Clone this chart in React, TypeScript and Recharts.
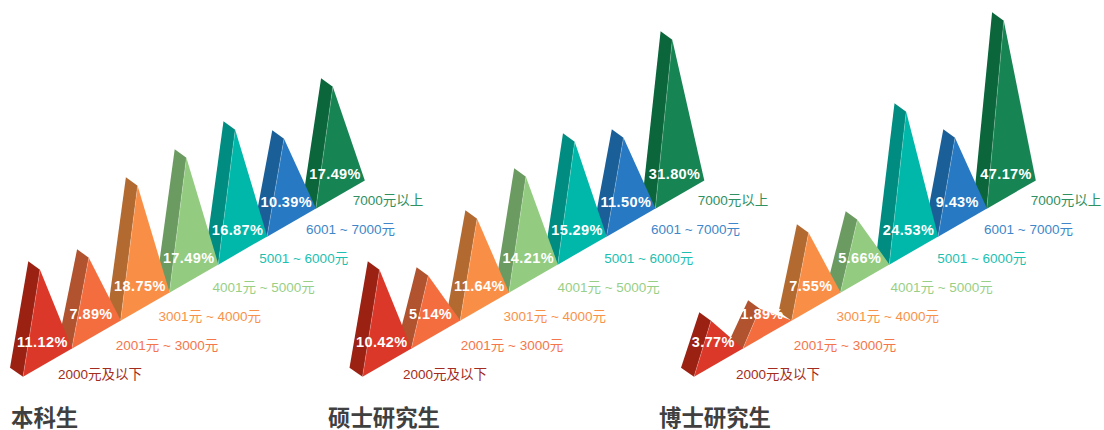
import { BarChart, Bar, XAxis, YAxis, LabelList } from 'recharts';

const brackets = ['2000元及以下', '2001元 ~ 3000元', '3001元 ~ 4000元', '4001元 ~ 5000元', '5001 ~ 6000元', '6001 ~ 7000元', '7000元以上'];

// printed shares
const undergradShares = ['11.12%', '7.89%', '18.75%', '17.49%', '16.87%', '10.39%', '17.49%'];
const masterShares = ['10.42%', '5.14%', '11.64%', '14.21%', '15.29%', '11.50%', '31.80%'];
const doctorShares = ['3.77%', '1.89%', '7.55%', '5.66%', '24.53%', '9.43%', '47.17%'];

// peak heights as drawn: the picture does not scale them linearly with the shares
const undergradPeaks = [107, 91, 135, 135, 135, 98, 122];
const masterPeaks = [107, 73, 102, 116, 123, 99, 169];
const doctorPeaks = [56, 40, 88, 73, 153, 99, 188];

const frontColors = ['#DB3829', '#F36D3F', '#F98F47', '#93CC80', '#00B8A9', '#2679C2', '#178453'];
const sideColors = ['#9B2113', '#B0532E', '#B36A30', '#6C9B62', '#008C80', '#1B5F99', '#0B663C'];
const textColors = ['#A32C20', '#F5764B', '#F99249', '#98CF86', '#1DBFB1', '#4087C9', '#2F9061'];

const FONT = '"Liberation Sans", "Noto Sans CJK SC", sans-serif';
const STEP = 48.8;
const RISE = 28 / STEP; // the base line climbs this much per px to the right
const BOTTOM = 376.7;
const labelNudge = [35, 44, 38, 43, 41, 39, 37];

function makeRows(shares: string[], peaks: number[]) {
  return brackets
    .map((bracket, i) => ({ i, bracket, share: shares[i], peak: peaks[i] }))
    .reverse(); // far pyramids first so the near ones cover them
}

function Pyramid(props: any, left: number) {
  const { x, y, width, height, payload } = props;
  const lift = (x - left) * RISE;
  const bx = x;
  const by = y + height - lift;
  const ax = x + 17;
  const ay = y - lift;
  const front = `${bx},${by} ${bx + width},${by - 28.3} ${ax},${ay}`;
  const side = `${bx - 13},${by - 9} ${bx},${by} ${ax},${ay} ${ax - 11.7},${ay - 8.4}`;
  return (
    <g>
      <polygon points={side} fill={sideColors[payload.i]} />
      <polygon points={front} fill={frontColors[payload.i]} />
      <line x1={bx} y1={by} x2={ax} y2={ay} stroke="#fff" strokeOpacity={0.3} strokeWidth={0.7} />
    </g>
  );
}

function Panel({ title, titleX, left, shift, shares, peaks }: any) {
  const rows = makeRows(shares, peaks);
  const box = (p: any) => p.viewBox ?? p;
  return (
    <>
      <div style={{ position: 'absolute', left: 0, top: 0 }}>
        <BarChart
          width={1104}
          height={430}
          data={rows}
          barCategoryGap={0}
          barGap={0}
          margin={{ top: BOTTOM - 360, bottom: 430 - BOTTOM, left, right: 1104 - left - STEP * 7 }}
        >
          <XAxis dataKey="bracket" hide reversed />
          <YAxis hide domain={[0, 360]} />
          <Bar dataKey="peak" isAnimationActive={false} shape={(p: any) => Pyramid(p, left)}>
            <LabelList
              dataKey="share"
              content={(p: any) => {
                const { x, y, height } = box(p);
                const lift = (x - left) * RISE;
                return (
                  <text x={x + 19.3} y={y + height - lift - 34.5} textAnchor="middle" dominantBaseline="central" fill="#fff" fontFamily={FONT} fontWeight={700} fontSize={14.5} letterSpacing={0.4}>
                    {p.value}
                  </text>
                );
              }}
            />
            <LabelList
              dataKey="bracket"
              content={(p: any) => {
                const { x } = box(p);
                const n = Math.round((x - left) / STEP);
                return (
                  <text x={x + labelNudge[n] + shift} y={374 - n * 28.9} dominantBaseline="central" fill={textColors[n]} fontFamily={FONT} fontSize={13.5}>
                    {p.value}
                  </text>
                );
              }}
            />
          </Bar>
        </BarChart>
      </div>
      <div style={{ position: 'absolute', left: titleX, top: 408, fontFamily: FONT, fontWeight: 700, fontSize: 22.4, lineHeight: '22px', color: '#404040', whiteSpace: 'nowrap' }}>
        {title}
      </div>
    </>
  );
}

export default function App() {
  return (
    <div style={{ position: 'absolute', left: 0, top: 0, width: 1104, height: 430, overflow: 'hidden', background: '#fff' }}>
      <Panel title="博士研究生" titleX={659} left={694} shift={7} shares={doctorShares} peaks={doctorPeaks} />
      <Panel title="硕士研究生" titleX={328} left={362.5} shift={5.5} shares={masterShares} peaks={masterPeaks} />
      <Panel title="本科生" titleX={11} left={23} shift={0} shares={undergradShares} peaks={undergradPeaks} />
    </div>
  );
}
